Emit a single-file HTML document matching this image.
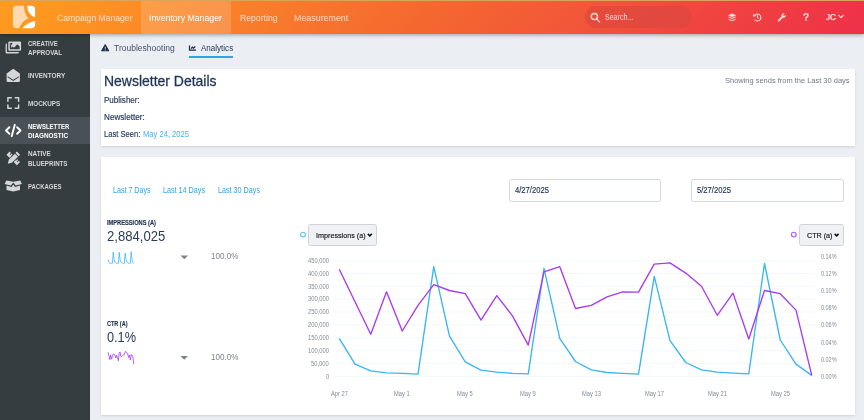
<!DOCTYPE html>
<html lang="en">
<head>
<meta charset="utf-8">
<title>Newsletter Diagnostic</title>
<style>
html,body{margin:0;padding:0;}
body{width:864px;height:420px;overflow:hidden;background:#ebeff4;font-family:"Liberation Sans",sans-serif;position:relative;color:#1f3354;}
.abs{position:absolute;}
.t{position:absolute;white-space:nowrap;line-height:1;transform-origin:0 0;z-index:8;}
#hdr{position:absolute;left:0;top:0;width:864px;height:33.5px;background:linear-gradient(135deg,#ff9c1e 0%,#fd9222 12%,#f97e2b 29%,#f4672f 50%,#f2553a 68%,#f0443f 81%,#ee3048 100%);box-shadow:0 1px 4px rgba(0,0,0,.35);z-index:5;}
#hdr .strip{position:absolute;left:0;top:0;width:864px;height:1px;background:#dba35c;}
#hdr .act{position:absolute;left:140.5px;top:1px;width:90px;height:32.5px;background:rgba(255,255,255,.16);}
#hdr .pill{position:absolute;left:584.7px;top:6px;width:107.8px;height:22.2px;border-radius:11.1px;background:rgba(220,72,62,.72);}
#side{position:absolute;left:0;top:33.5px;width:90px;height:386.5px;background:#363d40;z-index:1;}
#side .act{position:absolute;left:0;top:83.2px;width:90px;height:27.7px;background:#495156;}
.card{position:absolute;background:#fff;box-shadow:0 1px 2px rgba(0,0,0,.12);z-index:2;}
.inp{position:absolute;top:22px;height:22.5px;border:1px solid #d3d8de;border-radius:2.5px;box-sizing:border-box;background:#fff;}
.sel{position:absolute;top:67px;height:21.5px;border:1px solid #cfd4db;border-radius:2.5px;box-sizing:border-box;background:#eff1f5;}
#ov{position:absolute;left:0;top:0;width:864px;height:420px;z-index:7;pointer-events:none;}
</style>
</head>
<body>
<div id="hdr">
  <div class="strip"></div>
  <div class="act"></div>
  <div class="pill"></div>
</div>
<nav>
<span class="t" style="left:57.00px;top:14.00px;font-size:9.0px;transform:scaleX(0.9551);color:#fff;opacity:.7">Campaign Manager</span>
<span class="t" style="left:148.75px;top:14.00px;font-size:9.0px;transform:scaleX(0.9727);color:#fff;">Inventory Manager</span>
<span class="t" style="left:239.50px;top:14.00px;font-size:9.0px;transform:scaleX(0.9608);color:#fff;opacity:.72">Reporting</span>
<span class="t" style="left:293.75px;top:14.00px;font-size:9.0px;transform:scaleX(0.9858);color:#fff;opacity:.72">Measurement</span>
<span class="t" style="left:604.80px;top:14.00px;font-size:8.2px;transform:scaleX(0.8602);color:#fff;opacity:.8">Search...</span>
<span class="t" style="left:826.20px;top:13.00px;font-size:8.4px;transform:scaleX(0.9756);color:#fff;opacity:.85;-webkit-text-stroke:0.25px #fff">JC</span>
</nav>
<div id="side">
  <div class="act"></div>
</div>
<aside>
<span class="t" style="left:27.75px;top:41.00px;font-size:7.1px;transform:scaleX(0.8417);font-weight:bold;color:#d4d6d7;">CREATIVE</span>
<span class="t" style="left:27.75px;top:50.00px;font-size:7.1px;transform:scaleX(0.8781);font-weight:bold;color:#d4d6d7;">APPROVAL</span>
<span class="t" style="left:27.75px;top:73.00px;font-size:7.1px;transform:scaleX(0.9085);font-weight:bold;color:#d4d6d7;">INVENTORY</span>
<span class="t" style="left:27.75px;top:101.00px;font-size:7.1px;transform:scaleX(0.8893);font-weight:bold;color:#d4d6d7;">MOCKUPS</span>
<span class="t" style="left:27.75px;top:124.00px;font-size:7.1px;transform:scaleX(0.8440);font-weight:bold;color:#fff;">NEWSLETTER</span>
<span class="t" style="left:27.75px;top:133.00px;font-size:7.1px;transform:scaleX(0.9013);font-weight:bold;color:#fff;">DIAGNOSTIC</span>
<span class="t" style="left:27.75px;top:151.00px;font-size:7.1px;transform:scaleX(0.8961);font-weight:bold;color:#d4d6d7;">NATIVE</span>
<span class="t" style="left:27.75px;top:161.00px;font-size:7.1px;transform:scaleX(0.8714);font-weight:bold;color:#d4d6d7;">BLUEPRINTS</span>
<span class="t" style="left:27.75px;top:184.00px;font-size:7.1px;transform:scaleX(0.8441);font-weight:bold;color:#d4d6d7;">PACKAGES</span>
</aside>
<div class="abs" style="left:188.9px;top:55.6px;width:44.4px;height:2.1px;background:#2aa9e8;z-index:3"></div>
<div class="card" id="c1" style="left:101.25px;top:69.25px;width:754px;height:77px;"></div>
<div class="card" id="c2" style="left:101.25px;top:157.25px;width:754px;height:257.75px;">
  <div class="inp" style="left:407.25px;width:152.25px;"></div>
  <div class="inp" style="left:589.9px;width:152.4px;"></div>
  <div class="sel" style="left:207px;width:68.75px;"></div>
  <div class="sel" style="left:698px;width:44.25px;"></div>
</div>
<main>
<span class="t" style="left:114.40px;top:43.00px;font-size:9.7px;transform:scaleX(0.8796);color:#46526b">Troubleshooting</span>
<span class="t" style="left:201.25px;top:43.00px;font-size:9.7px;transform:scaleX(0.8293);color:#1f3354">Analytics</span>
<span class="t" style="left:104.25px;top:74.00px;font-size:14.8px;transform:scaleX(0.9434);color:#1f3354;-webkit-text-stroke:0.3px #1f3354;">Newsletter Details</span>
<span class="t" style="left:104.25px;top:96.00px;font-size:8.5px;transform:scaleX(0.9455);color:#1f3354;-webkit-text-stroke:0.15px #1f3354;">Publisher:</span>
<span class="t" style="left:104.25px;top:113.00px;font-size:8.5px;transform:scaleX(0.9585);color:#1f3354;-webkit-text-stroke:0.15px #1f3354;">Newsletter:</span>
<span class="t" style="left:104.25px;top:130.00px;font-size:8.5px;transform:scaleX(0.8920);color:#1f3354;-webkit-text-stroke:0.15px #1f3354;">Last Seen:</span>
<span class="t" style="left:143.00px;top:130.00px;font-size:8.5px;transform:scaleX(0.8929);color:#45b1ec">May 24, 2025</span>
<span class="t" style="left:724.75px;top:77.00px;font-size:7.7px;transform:scaleX(0.9711);color:#6f7785">Showing sends from the Last 30 days</span>
<span class="t" style="left:112.50px;top:187.00px;font-size:8.2px;transform:scaleX(0.8674);color:#2fa4e7;">Last 7 Days</span>
<span class="t" style="left:163.00px;top:187.00px;font-size:8.2px;transform:scaleX(0.8787);color:#2fa4e7;">Last 14 Days</span>
<span class="t" style="left:218.00px;top:187.00px;font-size:8.2px;transform:scaleX(0.8787);color:#2fa4e7;">Last 30 Days</span>
<span class="t" style="left:107.00px;top:220.00px;font-size:6.4px;transform:scaleX(0.8902);font-weight:bold;color:#1f3354;-webkit-text-stroke:0.15px #1f3354;">IMPRESSIONS (A)</span>
<span class="t" style="left:107.00px;top:229.00px;font-size:14px;transform:scaleX(0.9350);color:#2b3d5e;">2,884,025</span>
<span class="t" style="left:210.50px;top:252.00px;font-size:9.3px;transform:scaleX(0.8717);color:#7d828a">100.0%</span>
<span class="t" style="left:107.00px;top:321.00px;font-size:6.4px;transform:scaleX(0.8620);font-weight:bold;color:#1f3354;-webkit-text-stroke:0.15px #1f3354;">CTR (A)</span>
<span class="t" style="left:107.00px;top:330.00px;font-size:14px;transform:scaleX(0.9085);color:#2b3d5e;">0.1%</span>
<span class="t" style="left:210.50px;top:353.00px;font-size:9.3px;transform:scaleX(0.8717);color:#7d828a">100.0%</span>
<span class="t" style="left:514.50px;top:186.00px;font-size:8.6px;transform:scaleX(0.8893);color:#1f3354;-webkit-text-stroke:0.15px #1f3354;">4/27/2025</span>
<span class="t" style="left:697.25px;top:186.00px;font-size:8.6px;transform:scaleX(0.8893);color:#1f3354;-webkit-text-stroke:0.15px #1f3354;">5/27/2025</span>
<span class="t" style="left:315.60px;top:232.00px;font-size:7.8px;transform:scaleX(0.9231);color:#111;-webkit-text-stroke:0.15px #111">Impressions (a)</span>
<span class="t" style="left:806.75px;top:232.00px;font-size:7.8px;transform:scaleX(0.9194);color:#111;-webkit-text-stroke:0.15px #111">CTR (a)</span>
<span class="t" style="left:326.01px;top:374.00px;font-size:6.4px;transform:scaleX(0.9087);color:#838b96;">0</span>
<span class="t" style="left:311.49px;top:361.00px;font-size:6.4px;transform:scaleX(0.9087);color:#838b96;">50,000</span>
<span class="t" style="left:308.25px;top:348.00px;font-size:6.4px;transform:scaleX(0.9087);color:#838b96;">100,000</span>
<span class="t" style="left:308.25px;top:335.00px;font-size:6.4px;transform:scaleX(0.9087);color:#838b96;">150,000</span>
<span class="t" style="left:308.25px;top:322.00px;font-size:6.4px;transform:scaleX(0.9087);color:#838b96;">200,000</span>
<span class="t" style="left:308.25px;top:309.00px;font-size:6.4px;transform:scaleX(0.9087);color:#838b96;">250,000</span>
<span class="t" style="left:308.25px;top:296.00px;font-size:6.4px;transform:scaleX(0.9087);color:#838b96;">300,000</span>
<span class="t" style="left:308.25px;top:284.00px;font-size:6.4px;transform:scaleX(0.9087);color:#838b96;">350,000</span>
<span class="t" style="left:308.25px;top:271.00px;font-size:6.4px;transform:scaleX(0.9087);color:#838b96;">400,000</span>
<span class="t" style="left:308.25px;top:258.00px;font-size:6.4px;transform:scaleX(0.9087);color:#838b96;">450,000</span>
<span class="t" style="left:820.50px;top:374.00px;font-size:6.4px;transform:scaleX(0.8552);color:#838b96;">0.00%</span>
<span class="t" style="left:820.50px;top:357.00px;font-size:6.4px;transform:scaleX(0.8552);color:#838b96;">0.02%</span>
<span class="t" style="left:820.50px;top:340.00px;font-size:6.4px;transform:scaleX(0.8552);color:#838b96;">0.04%</span>
<span class="t" style="left:820.50px;top:322.00px;font-size:6.4px;transform:scaleX(0.8552);color:#838b96;">0.06%</span>
<span class="t" style="left:820.50px;top:305.00px;font-size:6.4px;transform:scaleX(0.8552);color:#838b96;">0.08%</span>
<span class="t" style="left:820.50px;top:288.00px;font-size:6.4px;transform:scaleX(0.8552);color:#838b96;">0.10%</span>
<span class="t" style="left:820.50px;top:271.00px;font-size:6.4px;transform:scaleX(0.8552);color:#838b96;">0.12%</span>
<span class="t" style="left:820.50px;top:254.00px;font-size:6.4px;transform:scaleX(0.8552);color:#838b96;">0.14%</span>
<span class="t" style="left:330.75px;top:391.00px;font-size:6.4px;transform:scaleX(0.9022);color:#838b96;">Apr 27</span>
<span class="t" style="left:394.40px;top:391.00px;font-size:6.4px;transform:scaleX(0.9022);color:#838b96;">May 1</span>
<span class="t" style="left:457.40px;top:391.00px;font-size:6.4px;transform:scaleX(0.9022);color:#838b96;">May 5</span>
<span class="t" style="left:520.40px;top:391.00px;font-size:6.4px;transform:scaleX(0.9022);color:#838b96;">May 9</span>
<span class="t" style="left:581.79px;top:391.00px;font-size:6.4px;transform:scaleX(0.9022);color:#838b96;">May 13</span>
<span class="t" style="left:644.79px;top:391.00px;font-size:6.4px;transform:scaleX(0.9022);color:#838b96;">May 17</span>
<span class="t" style="left:707.79px;top:391.00px;font-size:6.4px;transform:scaleX(0.9022);color:#838b96;">May 21</span>
<span class="t" style="left:770.79px;top:391.00px;font-size:6.4px;transform:scaleX(0.9022);color:#838b96;">May 25</span>
</main>
<svg id="ov" viewBox="0 0 864 420">
<!-- logo -->
<g>
  <path d="M24,5.8 Q24.3,14.5 28.4,18.2 Q22,21 19,28.3 L16.9,28.3 Q12.9,28.3 12.9,24.3 L12.9,9.8 Q12.9,5.8 16.9,5.8 Z" fill="#ffdab0"/>
  <path d="M27.2,5.8 Q27.4,15 35.15,17.2 L35.15,9.8 Q35.15,5.8 31.15,5.8 Z" fill="#fff"/>
  <path d="M22.6,28.3 Q27,22 35.15,20.9 L35.15,24.3 Q35.15,28.3 31.15,28.3 Z" fill="#fff"/>
</g>
<!-- search icon -->
<g fill="none" stroke="#ffddd2" stroke-width="1.3" stroke-linecap="round">
  <circle cx="594.4" cy="16.6" r="3.1"/>
  <line x1="596.8" y1="19.1" x2="599.6" y2="21.9"/>
</g>
<!-- header right icons -->
<g fill="#ffdcd8">
  <g transform="translate(732.15,17.35)">
    <path d="M0,-3.95 L4.05,-2.15 L0,-0.35 L-4.05,-2.15 Z"/>
    <path d="M-2.9,-0.75 L0,0.55 L2.9,-0.75 L4.05,-0.2 L0,1.65 L-4.05,-0.2 Z"/>
    <path d="M-2.9,1.55 L0,2.85 L2.9,1.55 L4.05,2.1 L0,3.95 L-4.05,2.1 Z"/>
  </g>
  <text x="803" y="21.3" font-family="Liberation Sans, sans-serif" font-weight="bold" font-size="10" fill="#ffdcd8" stroke="#ffdcd8" stroke-width="0.1">?</text>
  <g transform="translate(782.05,17.6) scale(0.84) translate(-782,-16.8)">
  <path d="M786.6,13.2 a2.9,2.9 0 0 1 -3.7,3.7 l-4.1,4.1 a1,1 0 0 1 -1.5,-1.5 l4.1,-4.1 a2.9,2.9 0 0 1 3.7,-3.7 l-1.8,1.8 l0.3,1.2 l1.2,0.3 Z"/>
  </g>
</g>
<!-- history -->
<g fill="none" stroke="#ffdcd8" stroke-width="1.05" stroke-linecap="round" stroke-linejoin="round">
  <path d="M754.3,15.9 A3.5,3.5 0 1 1 755,20.1"/>
  <path d="M757.4,15.6 L757.4,17.6 L758.6,18.4" stroke-width="0.9"/>
</g>
<path d="M753,13.7 L753.2,16.7 L756.1,16 Z" fill="#ffdcd8"/>
<!-- chevron -->
<path d="M838.8,15.4 L841,17.6 L843.2,15.4" fill="none" stroke="#ffdcd8" stroke-width="1.3" stroke-linecap="round" stroke-linejoin="round"/>

<!-- sidebar icons -->
<g fill="#d4d6d7">
  <!-- images -->
  <path fill-rule="evenodd" d="M9.6,41.5 h10.2 a1.3,1.3 0 0 1 1.3,1.3 v6.6 a1.3,1.3 0 0 1 -1.3,1.3 h-10.2 a1.3,1.3 0 0 1 -1.3,-1.3 v-6.6 a1.3,1.3 0 0 1 1.3,-1.3 Z M9.8,43 v6.2 h9.8 v-2.6 l-2.2,-2.4 l-3.4,3.6 l-1.3,-1.3 l-1.5,1.5 v-2 Z M11.3,42.8 a1,1 0 1 0 0.01,0 Z"/>
  <path d="M6.9,43.6 v7.3 a1.2,1.2 0 0 0 1.2,1.2 h10.8 v0.2 a1.2,1.2 0 0 1 -1.2,1.2 h-10.9 a1.2,1.2 0 0 1 -1.2,-1.2 v-7.5 a1.2,1.2 0 0 1 1.2,-1.2 Z"/>
  <!-- envelope open -->
  <path fill-rule="evenodd" d="M13.25,68.7 L19.9,73.6 V80.7 a1.3,1.3 0 0 1 -1.3,1.3 H7.9 a1.3,1.3 0 0 1 -1.3,-1.3 V73.6 Z M7.6,76.2 L13.25,79.8 L18.9,76.2 L18.9,77.3 L13.25,80.9 L7.6,77.3 Z"/>
  <!-- expand -->
  <path d="M7.9,101.2 V97.8 H11.3 M15.2,97.8 H18.6 V101.2 M18.6,104.9 V108.3 H15.2 M11.3,108.3 H7.9 V104.9" fill="none" stroke="#d4d6d7" stroke-width="1.5" stroke-linejoin="round" stroke-linecap="round"/>
  <!-- pencil ruler -->
  <g transform="translate(13.25,158.4)">
    <g transform="rotate(-45)">
      <path fill-rule="evenodd" d="M-2.2,-7.4 h4.4 v14.8 h-4.4 Z M0.3,-5.4 h1.9 v0.9 h-1.9 Z M0.3,-3.2 h1.9 v0.9 h-1.9 Z M0.3,2.6 h1.9 v0.9 h-1.9 Z M0.3,4.8 h1.9 v0.9 h-1.9 Z"/>
    </g>
    <g transform="rotate(45)">
      <path d="M-2.9,-8 h5.8 v16 h-5.8 Z" fill="#363d40"/>
      <path d="M-2.2,-7.4 h4.4 v2.1 h-4.4 Z M-2.2,-4.5 h4.4 v8.6 l-2.2,3.6 l-2.2,-3.6 Z"/>
    </g>
  </g>
  <!-- box open -->
  <path d="M6.3,180.6 L13.25,181.8 L20.2,180.6 L21.9,184 L15.6,185.6 L13.25,182.6 L10.9,185.6 L4.6,184 Z"/>
  <path d="M6.5,185.6 L11.5,186.9 L13.25,184.4 L15,186.9 L20,185.6 V190 L13.25,191.6 L6.5,190 Z"/>
</g>
<!-- code icon (active) -->
<g fill="none" stroke="#fff" stroke-width="1.9" stroke-linecap="round" stroke-linejoin="round">
  <path d="M9.4,127.2 L6,130.5 L9.4,133.8"/>
  <path d="M17.1,127.2 L20.5,130.5 L17.1,133.8"/>
  <path d="M14.8,124.8 L11.7,136.2"/>
</g>

<!-- tab icons -->
<path d="M105.2,44.6 L108.8,50.8 H101.6 Z" fill="#1b2b4b" stroke="#1b2b4b" stroke-width="1" stroke-linejoin="round"/>
<path d="M104.75,46.7 h0.9 l-0.12,2.2 h-0.66 Z M104.75,49.5 h0.9 v0.9 h-0.9 Z" fill="#ebeff4"/>
<g fill="none" stroke="#1b2b4b">
  <path d="M189.5,45.5 V50.2 H196" stroke-width="1.2"/>
  <path d="M191,48.7 L192.4,47.2 L193.5,48.2 L195.3,46.5" stroke-width="1.2"/>
</g>
<!-- carets -->
<path d="M180.5,255.6 h7.5 l-3.75,3.7 Z" fill="#7d828a"/>
<path d="M180.5,356 h7.5 l-3.75,3.7 Z" fill="#7d828a"/>
<!-- legend circles -->
<circle cx="303" cy="234.6" r="2.4" fill="#fff" stroke="#62c2f5" stroke-width="1.15"/>
<circle cx="793.8" cy="234.6" r="2.4" fill="#fff" stroke="#b55cf6" stroke-width="1.15"/>
<!-- select chevrons -->
<path d="M367.8,233.9 L369.8,235.9 L371.8,233.9" fill="none" stroke="#111" stroke-width="1.5"/>
<path d="M834.6,233.9 L836.6,235.9 L838.6,233.9" fill="none" stroke="#111" stroke-width="1.5"/>
<line x1="335" x2="815" y1="376.50" y2="376.50" stroke="#e9f2fa" stroke-width="0.6"/>
<line x1="335" x2="815" y1="363.61" y2="363.61" stroke="#e9f2fa" stroke-width="0.6"/>
<line x1="335" x2="815" y1="350.72" y2="350.72" stroke="#e9f2fa" stroke-width="0.6"/>
<line x1="335" x2="815" y1="337.83" y2="337.83" stroke="#e9f2fa" stroke-width="0.6"/>
<line x1="335" x2="815" y1="324.94" y2="324.94" stroke="#e9f2fa" stroke-width="0.6"/>
<line x1="335" x2="815" y1="312.06" y2="312.06" stroke="#e9f2fa" stroke-width="0.6"/>
<line x1="335" x2="815" y1="299.17" y2="299.17" stroke="#e9f2fa" stroke-width="0.6"/>
<line x1="335" x2="815" y1="286.28" y2="286.28" stroke="#e9f2fa" stroke-width="0.6"/>
<line x1="335" x2="815" y1="273.39" y2="273.39" stroke="#e9f2fa" stroke-width="0.6"/>
<line x1="335" x2="815" y1="260.50" y2="260.50" stroke="#e9f2fa" stroke-width="0.6"/>
<polyline points="339.25,338.4 355.00,364.1 370.75,370.9 386.50,372.8 402.25,373.4 418.00,374.1 433.75,266.7 449.50,336.1 465.25,361.9 481.00,370.2 496.75,372.1 512.50,373.4 528.25,373.8 544.00,268.3 559.75,338.4 575.50,361.5 591.25,369.9 607.00,372.5 622.75,373.4 638.50,374.1 654.25,276.4 670.00,340.6 685.75,362.5 701.50,369.9 717.25,372.1 733.00,373.1 748.75,373.8 764.50,263.5 780.25,340.0 796.00,364.1 811.75,375.4" fill="none" stroke="#3ab5f3" stroke-width="1.35" stroke-linejoin="round"/>
<polyline points="339.25,269.3 355.00,301.8 370.75,334.2 386.50,291.8 402.25,331.0 418.00,305.3 433.75,284.7 449.50,290.5 465.25,293.7 481.00,320.1 496.75,295.6 512.50,315.9 528.25,345.1 544.00,271.9 559.75,266.7 575.50,308.5 591.25,305.3 607.00,296.9 622.75,291.8 638.50,292.1 654.25,264.1 670.00,262.9 685.75,273.1 701.50,286.3 717.25,315.3 733.00,293.1 748.75,339.0 764.50,290.5 780.25,293.7 796.00,310.1 811.75,375.4" fill="none" stroke="#a83af3" stroke-width="1.35" stroke-linejoin="round"/>
<polyline points="108.10,259.63 108.95,262.32 109.81,263.03 110.66,263.23 111.52,263.29 112.38,263.36 113.23,252.13 114.08,259.39 114.94,262.09 115.80,262.96 116.65,263.15 117.50,263.29 118.36,263.33 119.22,252.30 120.07,259.63 120.92,262.05 121.78,262.92 122.63,263.20 123.49,263.29 124.34,263.36 125.20,253.15 126.06,259.86 126.91,262.15 127.77,262.92 128.62,263.15 129.47,263.26 130.33,263.33 131.19,251.80 132.04,259.80 132.90,262.32 133.75,263.50" fill="none" stroke="#3ab5f3" stroke-width="0.8" stroke-linejoin="round"/>
<polyline points="108.10,352.32 108.95,355.95 109.81,359.59 110.66,354.84 111.52,359.23 112.38,356.35 113.23,354.04 114.08,354.69 114.94,355.05 115.80,358.01 116.65,355.26 117.50,357.54 118.36,360.81 119.22,352.61 120.07,352.03 120.92,356.71 121.78,356.35 122.63,355.41 123.49,354.84 124.34,354.87 125.20,351.73 126.06,351.60 126.91,352.74 127.77,354.22 128.62,357.47 129.47,354.98 130.33,360.12 131.19,354.69 132.04,355.05 132.90,356.89 133.75,364.20" fill="none" stroke="#a83af3" stroke-width="0.8" stroke-linejoin="round"/>

</svg>
</body>
</html>
